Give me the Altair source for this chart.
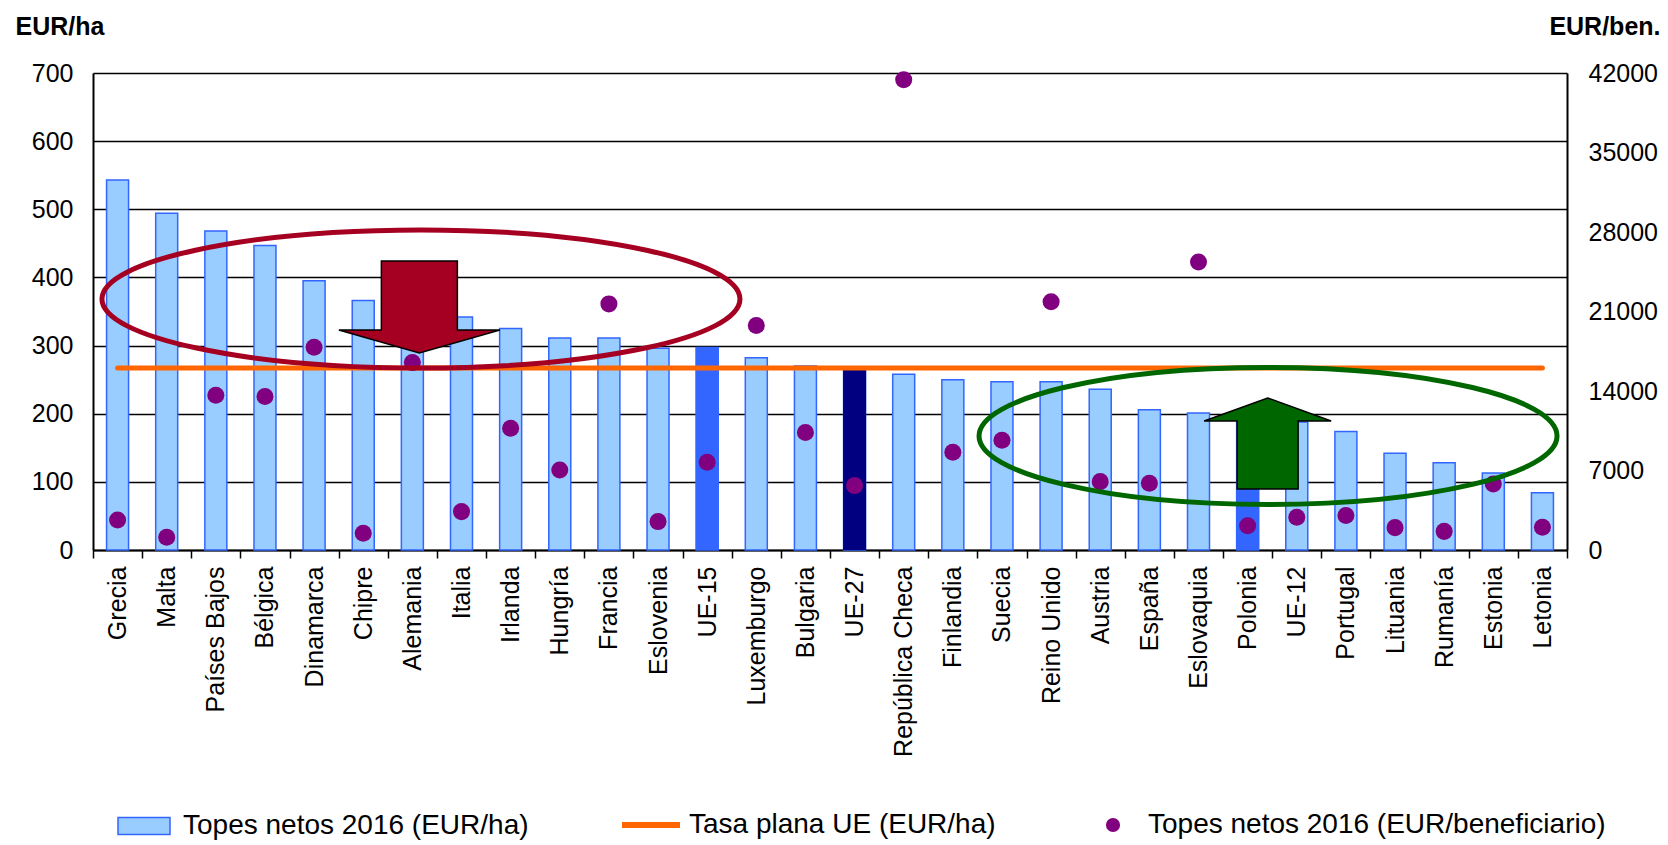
import altair as alt
import pandas as pd

# ---------------- data ----------------
categories = ["Grecia", "Malta", "Países Bajos", "Bélgica", "Dinamarca", "Chipre",
              "Alemania", "Italia", "Irlanda", "Hungría", "Francia", "Eslovenia",
              "UE-15", "Luxemburgo", "Bulgaria", "UE-27", "República Checa",
              "Finlandia", "Suecia", "Reino Unido", "Austria", "España",
              "Eslovaquia", "Polonia", "UE-12", "Portugal", "Lituania", "Rumanía",
              "Estonia", "Letonia"]
topes_ha = [543, 494, 468, 447, 395, 366, 352, 342, 325, 311, 311, 296, 297, 282,
            270, 266, 258, 250, 247, 247, 236, 206, 201, 195, 188, 174, 142, 128,
            113, 84]
topes_ben = [2640, 1120, 13630, 13510, 17860, 1470, 16500, 3380, 10720, 7050,
             21670, 2500, 7730, 19760, 10340, 5670, 41410, 8600, 9660, 21850,
             6020, 5870, 25350, 2140, 2880, 3030, 1970, 1640, 5820, 2000]
tasa_plana = 267

left_ticks = [0, 100, 200, 300, 400, 500, 600, 700]
right_ticks = [0, 7000, 14000, 21000, 28000, 35000, 42000]

# annotation anchors (category, value on EUR/ben. axis)
ann_cats = ["Alemania", "Alemania", "Polonia", "Polonia"]
ann_vals = [22100, 21400, 10040, 9380]

L1 = "Topes netos 2016 (EUR/ha)"
L2 = "Tasa plana UE (EUR/ha)"
L3 = "Topes netos 2016 (EUR/beneficiario)"

highlight = {"UE-15": "#3366FF", "UE-27": "#000080", "Polonia": "#3366FF"}

FONT = "Liberation Sans"

df = pd.DataFrame({"cat": categories, "ha": topes_ha, "ben": topes_ben})
df["flat"] = tasa_plana
df["s1"] = L1
df["s2"] = L2
df["s3"] = L3
df_hl = df[df["cat"].isin(list(highlight))].copy()
df_hl["hl"] = df_hl["cat"].map(highlight)

X = alt.X("cat:N", scale=alt.Scale(domain=categories, paddingInner=0, paddingOuter=0),
          axis=alt.Axis(title=None, labelAngle=-90, labelFontSize=25, labelFont=FONT,
                        labelColor="black", labelPadding=8, labelLimit=0, tickBand="extent",
                        tickSize=8, tickColor="black", tickWidth=1.5,
                        domainColor="black", domainWidth=2, grid=False))

yl_scale = alt.Scale(domain=[0, 700], nice=False)
yl_axis = alt.Axis(values=left_ticks, title="EUR/ha", titleAngle=0, titleX=-78, titleY=-39,
                   titleAlign="left", titleBaseline="alphabetic", titleFontWeight="bold",
                   titleFontSize=25, titleFont=FONT, titleColor="black",
                   labelFontSize=25, labelFont=FONT, labelColor="black", labelPadding=20,
                   ticks=False, grid=True, gridColor="black", gridWidth=1.5,
                   domainColor="black", domainWidth=2)

yr_scale = alt.Scale(domain=[0, 42000], nice=False)
yr_axis = alt.Axis(orient="right", values=right_ticks, format="d", title="EUR/ben.",
                   titleAngle=0, titleX=93, titleY=-39, titleAlign="right",
                   titleBaseline="alphabetic", titleFontWeight="bold", titleFontSize=25,
                   titleFont=FONT, titleColor="black",
                   labelFontSize=25, labelFont=FONT, labelColor="black", labelPadding=21,
                   ticks=False, grid=False, domainColor="black", domainWidth=2)

leg_common = dict(title=None, orient="none", labelFontSize=28, labelFont=FONT,
                  labelColor="black", labelLimit=0)

bars = alt.Chart(df).mark_bar(stroke="#3366FF", strokeWidth=1.5, width=22).encode(
    x=X,
    y=alt.Y("ha:Q", scale=yl_scale, axis=yl_axis),
    fill=alt.Fill("s1:N", scale=alt.Scale(domain=[L1], range=["#99CCFF"]),
                  legend=alt.Legend(legendX=24, legendY=726,
                                    symbolType="M-1,-0.327H1V0.327H-1Z", symbolSize=2704,
                                    symbolStrokeColor="#3366FF", symbolStrokeWidth=1.5,
                                    labelOffset=12, **leg_common)),
)

hl_bars = alt.Chart(df_hl).mark_bar(width=23, strokeWidth=0).encode(
    x=X,
    y=alt.Y("ha:Q", scale=yl_scale, axis=yl_axis),
    color=alt.Color("hl:N", scale=None),
)

line = alt.Chart(df).mark_line(strokeWidth=5, strokeCap="round").encode(
    x=X,
    y=alt.Y("flat:Q", scale=yl_scale, axis=yl_axis),
    stroke=alt.Stroke("s2:N", scale=alt.Scale(domain=[L2], range=["#FF6600"]),
                      legend=alt.Legend(legendX=526, legendY=720, symbolType="stroke",
                                        symbolSize=3364, symbolStrokeWidth=6,
                                        labelOffset=6, **leg_common)),
)

dots = alt.Chart(df).mark_circle(size=290, opacity=1).encode(
    x=X,
    y=alt.Y("ben:Q", scale=yr_scale, axis=yr_axis),
    fill=alt.Fill("s3:N", scale=alt.Scale(domain=[L3], range=["#800080"]),
                  legend=alt.Legend(legendX=1006, legendY=738, symbolType="circle",
                                    symbolSize=201, labelOffset=21, **leg_common)),
)

ELL1 = "M-1,0A1,0.2163 0 1,1 1,0A1,0.2163 0 1,1 -1,0Z"
ARR1 = "M-0.472,-0.571L0.472,-0.571L0.472,0.286L1,0.286L0,0.571L-1,0.286L-0.472,0.286Z"
ELL2 = "M-1,0A1,0.237 0 1,1 1,0A1,0.237 0 1,1 -1,0Z"
ARR2 = "M0,-0.717L1,-0.354L0.48,-0.354L0.48,0.717L-0.48,0.717L-0.48,-0.354L-1,-0.354Z"


def ann_layer(i, **mark):
    d = pd.DataFrame({"cat": [ann_cats[i]], "ben": [ann_vals[i]]})
    return alt.Chart(d).mark_point(opacity=1, **mark).encode(
        x=X, y=alt.Y("ben:Q", scale=yr_scale, axis=yr_axis))


red_ell = ann_layer(0, shape=ELL1, size=638 ** 2, filled=False, color="#A50021",
                    strokeWidth=5, xOffset=8.6)
red_arr = ann_layer(1, shape=ARR1, size=161 ** 2, filled=True, fill="#A50021",
                    stroke="black", strokeWidth=1.5, xOffset=7)
green_ell = ann_layer(2, shape=ELL2, size=578 ** 2, filled=False, color="#006600",
                      strokeWidth=5, xOffset=20.4)
green_arr = ann_layer(3, shape=ARR2, size=127 ** 2, filled=True, fill="#006600",
                      stroke="black", strokeWidth=1.5, xOffset=20)

left = alt.layer(bars, hl_bars, line)
right = alt.layer(dots, red_ell, red_arr, green_ell, green_arr)

chart = alt.layer(left, right).resolve_scale(y="independent", fill="independent").properties(
    width=1474, height=477,
    padding={"left": 85, "top": 65, "right": 93, "bottom": 292},
    autosize=alt.AutoSizeParams(type="none"),
    background="white",
).configure_view(stroke=None)

chart.save("out.html", embed_options={"renderer": "svg", "actions": False})
